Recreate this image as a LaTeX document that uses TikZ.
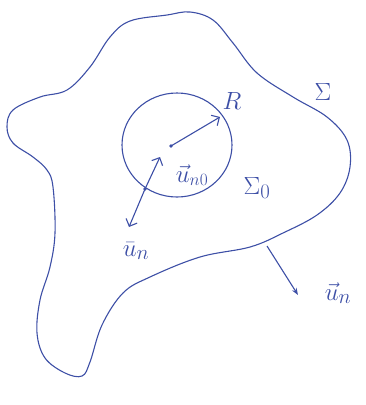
\documentclass[tikz,border=0pt]{standalone}
\usepackage{amsmath, amssymb}
\usepackage{tikz}
\usetikzlibrary{arrows.meta, calc, positioning}
\definecolor{Pen}{HTML}{3D4FA6}

\begin{document}
\begin{tikzpicture}[x=1pt, y=-1pt, line width=1.1pt, Pen,
    big/.style={font=\fontsize{28}{32}\selectfont},
    mid/.style={font=\fontsize{24}{28}\selectfont}]
  \useasboundingbox (0,0) rectangle (366,405);
  % outer surface
  \draw plot[smooth cycle, tension=0.6] coordinates {
    (167,15) (130,21) (110,37) (90,67) (67,90) (40,97) (13,110) (7,127)
    (13,143) (33,157) (47,170) (53,187) (55,233) (50,267) (40,300) (37,333)
    (45,358) (65,373) (82,376) (90,362) (102,325) (123,293) (150,277)
    (200,257) (250,247) (283,233) (317,215) (340,193) (350,167) (347,140)
    (327,117) (293,97) (257,73) (233,43) (213,20) (190,12)};
  \node[big] (sigma) at (323,92) {$\Sigma$};
  % inner sphere
  \draw (177,145) ellipse [x radius=55, y radius=52];
  \coordinate (centre) at (171,146);
  \coordinate (rim) at (220,117);
  \coordinate (foot) at (145,189);
  \fill (centre) circle (1.8pt);
  \fill (foot) circle (1.8pt);
  \draw[-{Straight Barb[length=6pt]}] (centre) -- (rim);
  \node[big] (radius) at (232,101) {$R$};
  \node[big] (sigmazero) at (257,188) {$\Sigma_0$};
  % normals on the inner sphere
  \coordinate (inner) at (160,157);
  \coordinate (outer) at (129,227);
  \draw[-{Straight Barb[length=6pt]}] (foot) -- (inner);
  \draw[-{Straight Barb[length=6pt]}] (foot) -- (outer);
  \node[mid] (unzero) at (192,175) {$\vec{u}_{n0}$};
  \node[big] (unin) at (136,251) {$\bar{u}_{n}$};
  % normal on the outer surface
  \coordinate (base) at (267,246);
  \coordinate (tip) at (298,295);
  \draw[-{Stealth[length=7pt]}] (base) -- (tip);
  \node[big] (unout) at (338,293) {$\vec{u}_{n}$};
\end{tikzpicture}
\end{document}
